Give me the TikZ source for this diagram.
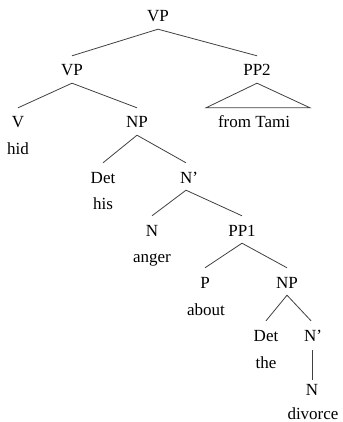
\documentclass[tikz,border=0pt]{standalone}
\usepackage{fontspec}
\setmainfont{Liberation Serif}
\usetikzlibrary{calc}
\begin{document}
\begin{tikzpicture}[x=1pt,y=-1pt,
  cat/.style={anchor=base,inner sep=0pt,text height=20pt,text depth=7pt,font=\fontsize{17}{20}\selectfont},
  word/.style={anchor=base,inner sep=0pt,font=\fontsize{17}{20}\selectfont},
  edge/.style={draw=black!75,line width=0.8pt}]
\useasboundingbox (0,0) rectangle (342,422);
% categories
\node[cat] (vp0) at (158,22) {VP};
\node[cat] (vp1) at (72,76) {VP};
\node[cat] (pp2) at (257,76) {PP2};
\node[cat] (v) at (18,128) {V};
\node[cat] (np1) at (137,128) {NP};
\node[cat] (tami) at (254,128) {from Tami};
\node[cat] (det1) at (103,183) {Det};
\node[cat] (nb1) at (189,183) {N’};
\node[cat] (n1) at (152,236) {N};
\node[cat] (pp1) at (242,236) {PP1};
\node[cat] (p) at (205,288) {P};
\node[cat] (np2) at (287,288) {NP};
\node[cat] (det2) at (266,341) {Det};
\node[cat] (nb2) at (313,341) {N’};
\node[cat] (n2) at (312,395) {N};
% words
\node[word] (hid) at (18,154) {hid};
\node[word] (his) at (103,209) {his};
\node[word] (anger) at (152,262) {anger};
\node[word] (about) at (206,315) {about};
\node[word] (the) at (266,368) {the};
\node[word] (divorce) at (313,419) {divorce};
% edges
\draw[edge] (vp0.south) -- (vp1.north);
\draw[edge] (vp0.south) -- (pp2.north);
\draw[edge] (vp1.south) -- (v.north);
\draw[edge] (vp1.south) -- (np1.north);
\draw[edge] (np1.south) -- (det1.north);
\draw[edge] (np1.south) -- ($(nb1.north)+(-3,0)$);
\draw[edge] ($(nb1.south)+(-3,0)$) -- (n1.north);
\draw[edge] ($(nb1.south)+(-3,0)$) -- (pp1.north);
\draw[edge] (pp1.south) -- (p.north);
\draw[edge] (pp1.south) -- (np2.north);
\draw[edge] (np2.south) -- (det2.north);
\draw[edge] (np2.south) -- ($(nb2.north)+(-2,0)$);
\draw[edge] ($(nb2.south)+(-1,2)$) -- ($(n2.north)+(0,5)$);
% triangle
\coordinate (tl) at ($(tami.north)+(-48,0)$);
\coordinate (tr) at ($(tami.north)+(56,0)$);
\draw[edge] (pp2.south) -- (tl) -- (tr) -- cycle;
\end{tikzpicture}
\end{document}
